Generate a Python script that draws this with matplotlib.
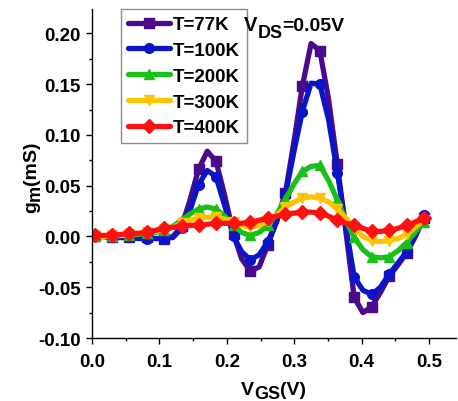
import matplotlib
matplotlib.use("Agg")
import matplotlib.pyplot as plt
from matplotlib.ticker import MultipleLocator, FormatStrFormatter

# Gate-voltage sweep (V); markers sit on every other sample
vgs = [0.004, 0.017, 0.030, 0.043, 0.055, 0.068, 0.081, 0.094, 0.107, 0.120,
       0.133, 0.145, 0.158, 0.171, 0.184, 0.197, 0.210, 0.222, 0.235, 0.248,
       0.261, 0.274, 0.287, 0.300, 0.312, 0.325, 0.338, 0.351, 0.364, 0.377,
       0.389, 0.402, 0.415, 0.428, 0.441, 0.454, 0.467, 0.479, 0.492]

# Transconductance gm (mS) at each temperature
gm_77K = [0.000, 0.000, -0.001, -0.001, -0.001, -0.001, -0.001, -0.002, -0.002, 0.000,
          0.010, 0.035, 0.066, 0.084, 0.074, 0.040, 0.002, -0.022, -0.034, -0.030,
          -0.008, 0.015, 0.043, 0.095, 0.148, 0.190, 0.183, 0.135, 0.071, 0.003,
          -0.060, -0.075, -0.069, -0.055, -0.039, -0.028, -0.016, -0.001, 0.018]
gm_100K = [0.000, 0.000, -0.001, -0.001, -0.001, -0.002, -0.002, -0.002, -0.002, -0.001,
           0.008, 0.025, 0.051, 0.065, 0.059, 0.030, 0.000, -0.015, -0.023, -0.018,
           -0.005, 0.015, 0.041, 0.085, 0.123, 0.151, 0.150, 0.115, 0.063, 0.008,
           -0.040, -0.053, -0.057, -0.050, -0.037, -0.026, -0.015, 0.002, 0.021]
gm_200K = [0.000, 0.000, 0.000, 0.001, 0.001, 0.002, 0.003, 0.004, 0.006, 0.010,
           0.016, 0.022, 0.027, 0.029, 0.027, 0.020, 0.011, 0.004, 0.001, 0.004,
           0.011, 0.022, 0.037, 0.052, 0.064, 0.069, 0.070, 0.055, 0.036, 0.015,
           -0.001, -0.013, -0.020, -0.021, -0.020, -0.014, -0.006, 0.004, 0.014]
gm_300K = [0.000, 0.000, 0.001, 0.001, 0.002, 0.003, 0.004, 0.005, 0.007, 0.009,
           0.013, 0.016, 0.018, 0.019, 0.019, 0.017, 0.014, 0.011, 0.009, 0.011,
           0.015, 0.021, 0.029, 0.034, 0.038, 0.039, 0.038, 0.034, 0.027, 0.018,
           0.008, 0.000, -0.004, -0.005, -0.004, -0.002, 0.002, 0.009, 0.016]
gm_400K = [0.001, 0.001, 0.001, 0.002, 0.003, 0.003, 0.004, 0.006, 0.008, 0.009,
           0.010, 0.011, 0.011, 0.012, 0.013, 0.013, 0.013, 0.013, 0.014, 0.016,
           0.018, 0.020, 0.022, 0.023, 0.024, 0.024, 0.023, 0.020, 0.016, 0.013,
           0.011, 0.008, 0.005, 0.005, 0.006, 0.008, 0.011, 0.014, 0.018]

labels = ["T=77K", "T=100K", "T=200K", "T=300K", "T=400K"]
series = [gm_77K, gm_100K, gm_200K, gm_300K, gm_400K]
colors = ["#4a0a8c", "#0a14c8", "#18c018", "#ffc400", "#ff1010"]
markers = ["s", "o", "^", "v", "D"]
msizes = [6.5, 7, 7.5, 7.5, 7]

plt.rcParams["font.family"] = ["Liberation Sans", "DejaVu Sans"]
plt.rcParams["font.weight"] = "bold"

fig = plt.figure(figsize=(4.58, 4.02), dpi=100)
ax = fig.add_axes([0.2009, 0.1567, 0.7947, 0.8183])

for y, lab, c, m, ms in zip(series, labels, colors, markers, msizes):
    ax.plot(vgs, y, color=c, lw=3.8, marker=m, ms=ms, markevery=(0, 2),
            mec=c, mfc=c, label=lab, solid_joinstyle="round",
            solid_capstyle="round")

ax.set_xlim(0, 0.54)
ax.set_ylim(-0.10, 0.224)
ax.xaxis.set_major_locator(MultipleLocator(0.1))
ax.xaxis.set_minor_locator(MultipleLocator(0.05))
ax.yaxis.set_major_locator(MultipleLocator(0.05))
ax.yaxis.set_minor_locator(MultipleLocator(0.025))
ax.xaxis.set_major_formatter(FormatStrFormatter("%.1f"))
ax.yaxis.set_major_formatter(FormatStrFormatter("%.2f"))

for s in ("top", "right"):
    ax.spines[s].set_visible(False)
for s in ("left", "bottom"):
    ax.spines[s].set_linewidth(1.0)

ax.tick_params(which="major", direction="out", length=4, width=1,
               labelsize=13.5)
ax.tick_params(which="minor", direction="out", length=2.5, width=1)
ax.tick_params(axis="x", which="major", pad=7)
ax.tick_params(axis="y", which="major", pad=4)
for t in ax.get_xticklabels() + ax.get_yticklabels():
    t.set_fontweight("bold")

leg = ax.legend(loc="upper left", bbox_to_anchor=(0.08, 1.0),
                borderaxespad=0, fontsize=13.5, frameon=True, fancybox=False,
                handlelength=2.25, handletextpad=0.12, labelspacing=0.46,
                borderpad=0.38, numpoints=1)
leg.get_frame().set_edgecolor("#707070")
leg.get_frame().set_linewidth(1.0)
for t in leg.get_texts():
    t.set_fontweight("bold")


def chain(parts, x, y, rotation=0):
    """Draw text pieces one after another; each part is (text, size, shift_pt)."""
    prev = None
    for text, size, shift in parts:
        if prev is None:
            prev = fig.text(x, y, text, fontsize=size, fontweight="bold",
                            rotation=rotation,
                            ha="left" if rotation == 0 else "right",
                            va="bottom")
        elif rotation == 0:
            prev = ax.annotate(text, xy=(1, 0), xycoords=prev,
                               xytext=(0, -shift), textcoords="offset points",
                               fontsize=size, fontweight="bold",
                               ha="left", va="bottom", annotation_clip=False)
        else:
            prev = ax.annotate(text, xy=(1, 1), xycoords=prev,
                               xytext=(shift, 0), textcoords="offset points",
                               fontsize=size, fontweight="bold",
                               rotation=rotation, ha="right", va="bottom",
                               annotation_clip=False)
    return prev


W, H = 458.0, 402.0
# V_DS annotation
chain([("V", 14.5, 0), ("DS", 13, 5), ("=0.05V", 14, -5)],
      244 / W, 1 - 35 / H)
# x-axis label
chain([("V", 14, 0), ("GS", 13, 3), ("(V)", 14, -3)],
      241 / W, 1 - 399 / H)
# y-axis label
chain([("g", 14, 0), ("m", 13, 3), ("(mS)", 14, -3)],
      40 / W, 1 - 213 / H, rotation=90)

fig.savefig("out.png", dpi=100)
